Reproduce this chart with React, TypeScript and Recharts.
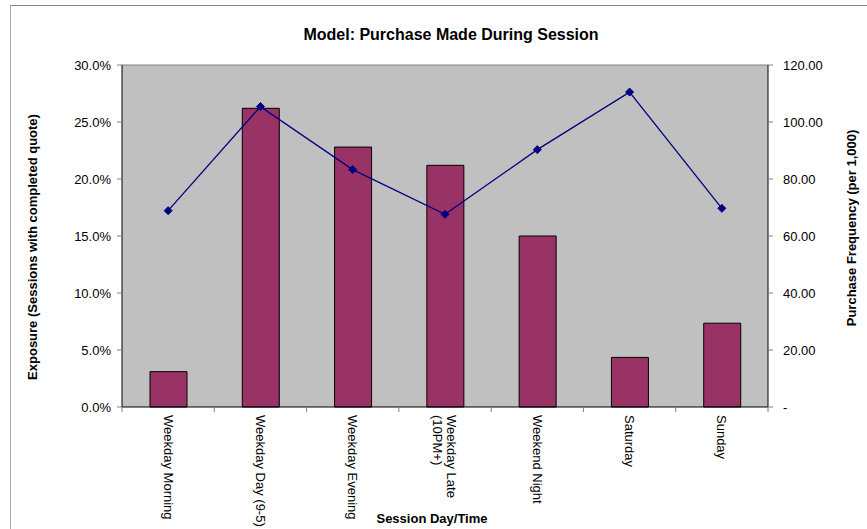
import { ComposedChart, Bar, Line, XAxis, YAxis, CartesianGrid, ReferenceLine } from 'recharts'

const sessions = [
  'Weekday Morning',
  'Weekday Day (9-5)',
  'Weekday Evening',
  'Weekday Late (10PM+)',
  'Weekend Night',
  'Saturday',
  'Sunday'
]
// share of sessions with a completed quote
const exposure = [0.031, 0.262, 0.228, 0.212, 0.15, 0.0435, 0.0735]
// purchases per 1,000 sessions
const frequency = [68.9, 105.4, 83.3, 67.6, 90.3, 110.5, 69.7]

const exposureTicks = [0, 0.05, 0.1, 0.15, 0.2, 0.25, 0.3]
const frequencyTicks = [0, 20, 40, 60, 80, 100, 120]

const data = sessions.map((name, i) => ({
  name,
  exposure: exposure[i],
  frequency: frequency[i]
}))

const W = 867
const H = 529
const margin = { top: 65, right: 20, bottom: 0, left: 0 }
const leftAxisW = 122
const rightAxisW = 79
const xAxisH = 122
const plotW = W - margin.left - margin.right - leftAxisW - rightAxisW
const band = plotW / sessions.length

const font = '"Liberation Sans", Arial, sans-serif'

const splitLabel = (s: string) => {
  if (s.length <= 18) return [s]
  const cut = s.lastIndexOf(' ')
  return [s.slice(0, cut), s.slice(cut + 1)]
}

const CategoryTick = (props: any) => {
  const { x, y, payload, index } = props
  const lines = splitLabel(payload.value)
  const axisY = y - 8
  const lh = 14
  return (
    <g>
      <line x1={x - band / 2} y1={axisY} x2={x - band / 2} y2={axisY + 5} stroke="#808080" />
      {index === sessions.length - 1 && (
        <line x1={x + band / 2} y1={axisY} x2={x + band / 2} y2={axisY + 5} stroke="#808080" />
      )}
      <text
        transform={`translate(${x},${y}) rotate(90)`}
        textAnchor="start"
        fontSize={13}
        fontFamily={font}
        fill="#000"
      >
        {lines.map((l, i) => (
          <tspan key={i} x={0} y={(i - (lines.length - 1) / 2) * lh} dy="0.35em">
            {l}
          </tspan>
        ))}
      </text>
    </g>
  )
}

const Diamond = (props: any) => {
  const { cx, cy } = props
  if (cx == null || cy == null) return null
  const r = 4
  return (
    <polygon
      points={`${cx},${cy - r} ${cx + r},${cy} ${cx},${cy + r} ${cx - r},${cy}`}
      fill="#000080"
      stroke="#000080"
    />
  )
}

export default function App() {
  return (
    <div style={{ position: 'absolute', left: 0, top: 0, width: W, height: H, background: '#fff' }}>
      <div
        style={{
          position: 'absolute',
          left: 10,
          top: 5,
          width: W,
          height: H,
          borderTop: '1px solid #858585',
          borderLeft: '1px solid #a8a8a8'
        }}
      />
      <ComposedChart width={W} height={H} data={data} margin={margin}>
        <CartesianGrid horizontal={false} vertical={false} fill="#C0C0C0" />
        <XAxis
          dataKey="name"
          xAxisId="cat"
          height={xAxisH}
          interval={0}
          tickLine={false}
          tickSize={5}
          tickMargin={3}
          axisLine={{ stroke: '#000' }}
          tick={<CategoryTick />}
        />
        <YAxis
          yAxisId="left"
          width={leftAxisW}
          domain={[0, 0.3]}
          ticks={exposureTicks}
          tickFormatter={(v: number) => `${(v * 100).toFixed(1)}%`}
          tick={{ fontSize: 13, fill: '#000', fontFamily: font }}
          tickLine={{ stroke: '#808080' }}
          tickSize={5}
          tickMargin={6}
          axisLine={{ stroke: '#000' }}
        />
        <YAxis
          yAxisId="right"
          orientation="right"
          width={rightAxisW}
          domain={[0, 120]}
          ticks={frequencyTicks}
          tickFormatter={(v: number) => (v === 0 ? '-' : v.toFixed(2))}
          tick={{ fontSize: 13, fill: '#000', fontFamily: font, textAnchor: 'start' }}
          tickLine={{ stroke: '#808080' }}
          tickSize={5}
          tickMargin={10}
          axisLine={{ stroke: '#000' }}
        />
        <ReferenceLine yAxisId="left" xAxisId="cat" y={0.3} stroke="#808080" />
        <Bar
          dataKey="exposure"
          yAxisId="left"
          xAxisId="cat"
          barSize={37}
          fill="#993366"
          stroke="#000"
          strokeWidth={1}
          isAnimationActive={false}
        />
        <Line
          dataKey="frequency"
          yAxisId="right"
          xAxisId="cat"
          stroke="#000080"
          strokeWidth={1.3}
          dot={<Diamond />}
          activeDot={false}
          isAnimationActive={false}
        />
      </ComposedChart>
      <svg
        width={W}
        height={H}
        style={{ position: 'absolute', left: 0, top: 0, pointerEvents: 'none' }}
        fontFamily={font}
        fontWeight="bold"
      >
        <text x={451} y={34} fontSize={16} textAnchor="middle" dominantBaseline="central">
          Model: Purchase Made During Session
        </text>
        <text x={432} y={518} fontSize={13} textAnchor="middle" dominantBaseline="central">
          Session Day/Time
        </text>
        <text
          transform="translate(32,247) rotate(-90)"
          fontSize={13}
          textAnchor="middle"
          dominantBaseline="central"
        >
          Exposure (Sessions with completed quote)
        </text>
        <text
          transform="translate(851,228) rotate(-90)"
          fontSize={13}
          textAnchor="middle"
          dominantBaseline="central"
        >
          Purchase Frequency (per 1,000)
        </text>
      </svg>
    </div>
  )
}
